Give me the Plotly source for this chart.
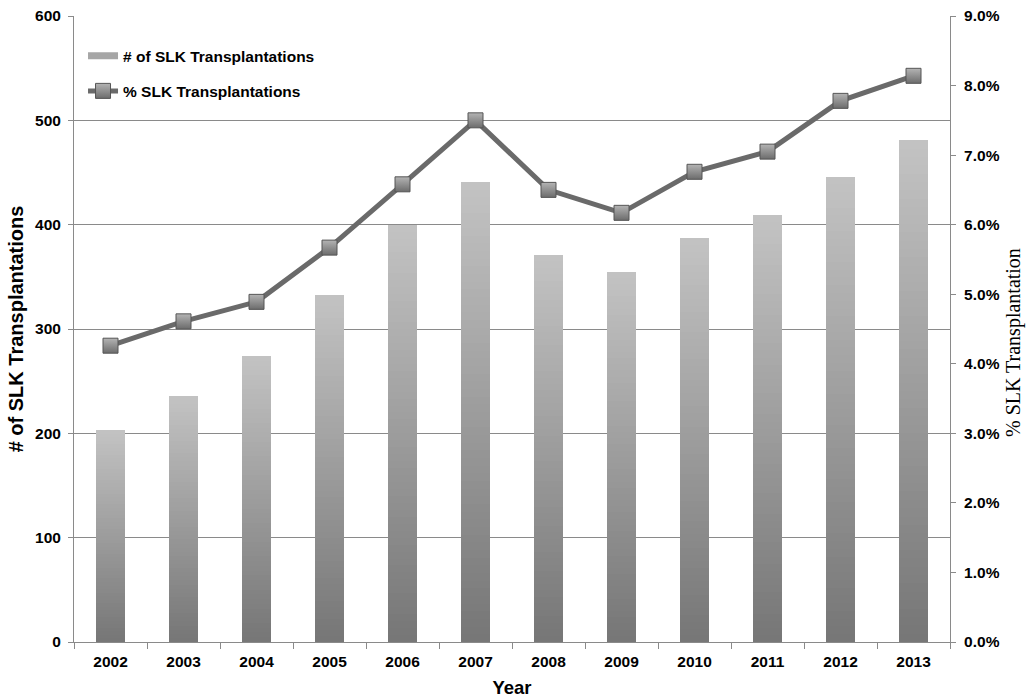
import plotly.graph_objects as go

years = ["2002", "2003", "2004", "2005", "2006", "2007", "2008", "2009", "2010", "2011", "2012", "2013"]
slk_counts = [203, 236, 274, 333, 400, 441, 371, 355, 387, 409, 446, 481]
slk_percent = [0.0426, 0.0461, 0.0489, 0.0567, 0.0658, 0.0750, 0.0650, 0.0617, 0.0676, 0.0705, 0.0778, 0.0814]

left_ticks = [0, 100, 200, 300, 400, 500, 600]

FONT = "Liberation Sans"
N_SEG = 60
BOTTOM_RGB = (0x76, 0x76, 0x76)
TOP_RGB = (0xc3, 0xc3, 0xc3)


def seg_color(k):
    t = (k + 0.5) / N_SEG
    r, g, b = (round(BOTTOM_RGB[i] + (TOP_RGB[i] - BOTTOM_RGB[i]) * t) for i in range(3))
    return f"rgb({r},{g},{b})"


fig = go.Figure()

# Vertical-gradient bars: overlaid bars of decreasing height (derived from slk_counts),
# tallest/lightest drawn first, shortest/darkest last, so there are no seams.
for k in range(N_SEG - 1, -1, -1):
    c = seg_color(k)
    fig.add_trace(go.Bar(
        x=years,
        y=[v * (k + 1) / N_SEG for v in slk_counts],
        width=0.41,
        marker=dict(color=c, line=dict(width=0)),
        showlegend=False,
        hoverinfo="skip",
        yaxis="y",
    ))

# legend stand-in for the bar series
fig.add_trace(go.Scatter(
    x=[None], y=[None], mode="lines",
    line=dict(color="#a6a6a6", width=7),
    name="# of SLK Transplantations",
    legendgroup="a",
))

fig.add_trace(go.Scatter(
    x=years, y=slk_percent, mode="lines+markers",
    line=dict(color="#6a6a6a", width=5),
    marker=dict(symbol="square", size=15, color="#b4b4b4",
                gradient=dict(type="vertical", color="#6c6c6c"),
                line=dict(color="#555555", width=1)),
    name="% SLK Transplantations",
    legendgroup="b",
    yaxis="y2",
))

fig.update_layout(
    width=1027, height=698,
    margin=dict(l=74, r=77, t=16, b=56, autoexpand=False),
    paper_bgcolor="white", plot_bgcolor="white",
    barmode="overlay",
    bargap=0,
    font=dict(family=FONT, color="black", size=15),
    showlegend=True,
    legend=dict(
        x=0.0103, y=0.963, xanchor="left", yanchor="top",
        bgcolor="rgba(0,0,0,0)",
        font=dict(family=FONT, size=15.5, weight="bold", color="black"),
        traceorder="grouped", tracegroupgap=12,
        itemwidth=30,
    ),
    xaxis=dict(
        type="category",
        range=[-0.5, len(years) - 0.5],
        automargin=False,
        showline=True, linecolor="#8a8a8a", linewidth=1,
        ticks="outside", ticklen=6, tickcolor="#8a8a8a",
        tickson="boundaries",
        ticklabelstandoff=5,
        showgrid=False,
        tickfont=dict(family=FONT, size=15.5, weight="bold"),
        title=dict(text="Year", font=dict(family=FONT, size=18.5, weight="bold"), standoff=12),
    ),
    yaxis=dict(
        range=[0, 600],
        tickvals=left_ticks,
        automargin=False,
        showline=True, linecolor="#8a8a8a", linewidth=1,
        ticks="outside", ticklen=5, tickcolor="#8a8a8a",
        ticklabelstandoff=4,
        showgrid=True, gridcolor="#8a8a8a", gridwidth=1,
        zeroline=False,
        tickfont=dict(family=FONT, size=15.5, weight="bold"),
        title=dict(text="# of SLK Transplantations",
                   font=dict(family=FONT, size=20, weight="bold"), standoff=6),
    ),
    yaxis2=dict(
        range=[0, 0.09],
        dtick=0.01, tick0=0,
        tickformat=".1%",
        overlaying="y", side="right",
        automargin=False,
        showline=True, linecolor="#8a8a8a", linewidth=1,
        ticks="outside", ticklen=5, tickcolor="#8a8a8a",
        ticklabelstandoff=5,
        showgrid=False, zeroline=False,
        tickfont=dict(family=FONT, size=15.5, weight="bold"),
    ),
    annotations=[dict(
        text="% SLK Transplantation",
        xref="paper", yref="paper", x=1, y=0.4776,
        xanchor="center", yanchor="middle", xshift=63,
        textangle=-90, showarrow=False, borderpad=0,
        font=dict(family="Liberation Serif", size=20, color="black"),
    )],
)

fig.write_html("out.html")
